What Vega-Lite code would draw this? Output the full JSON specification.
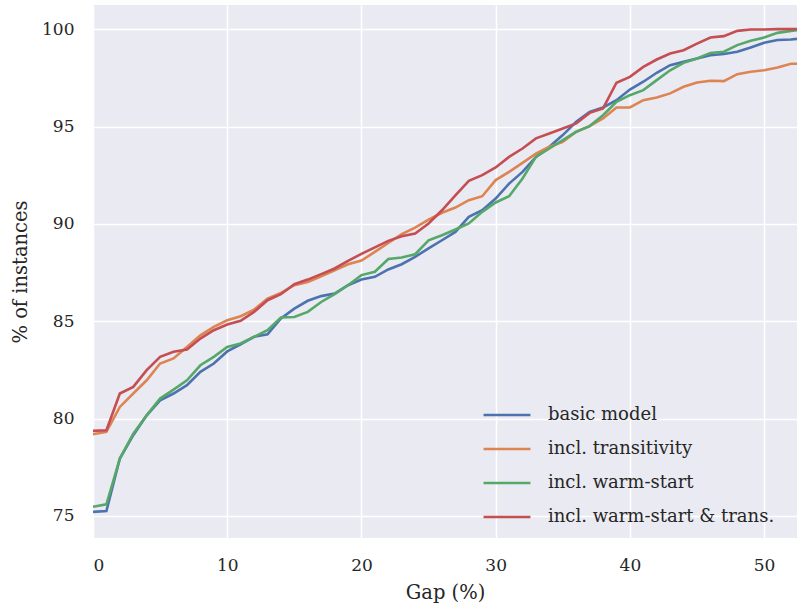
{
  "$schema": "https://vega.github.io/schema/vega-lite/v6.json",
  "width": 704,
  "height": 533,
  "autosize": {"type": "none"},
  "padding": {"left": 93, "top": 5, "right": 0, "bottom": 69},
  "background": "white",
  "config": {
    "view": {"fill": "#EAEAF2", "stroke": null},
    "font": "DejaVu Serif",
    "axis": {
      "domain": false, "ticks": false, "grid": true, "gridColor": "white", "gridWidth": 1.5,
      "labelFont": "DejaVu Serif", "labelFontSize": 17, "labelColor": "#262626",
      "titleFont": "DejaVu Serif", "titleFontSize": 19.5, "titleColor": "#262626", "titleFontWeight": "normal"
    },
    "legend": {"labelFont": "DejaVu Serif", "labelFontSize": 18, "labelColor": "#262626"}
  },
  "data": {"values": [
    {"g":0,"s":"basic model","v":75.21},{"g":1,"s":"basic model","v":75.26},{"g":2,"s":"basic model","v":77.95},{"g":3,"s":"basic model","v":79.15},{"g":4,"s":"basic model","v":80.17},{"g":5,"s":"basic model","v":80.94},{"g":6,"s":"basic model","v":81.29},{"g":7,"s":"basic model","v":81.72},{"g":8,"s":"basic model","v":82.40},{"g":9,"s":"basic model","v":82.83},{"g":10,"s":"basic model","v":83.45},{"g":11,"s":"basic model","v":83.82},{"g":12,"s":"basic model","v":84.20},{"g":13,"s":"basic model","v":84.33},{"g":14,"s":"basic model","v":85.14},{"g":15,"s":"basic model","v":85.65},{"g":16,"s":"basic model","v":86.05},{"g":17,"s":"basic model","v":86.29},{"g":18,"s":"basic model","v":86.42},{"g":19,"s":"basic model","v":86.85},{"g":20,"s":"basic model","v":87.14},{"g":21,"s":"basic model","v":87.28},{"g":22,"s":"basic model","v":87.66},{"g":23,"s":"basic model","v":87.93},{"g":24,"s":"basic model","v":88.31},{"g":25,"s":"basic model","v":88.74},{"g":26,"s":"basic model","v":89.16},{"g":27,"s":"basic model","v":89.59},{"g":28,"s":"basic model","v":90.36},{"g":29,"s":"basic model","v":90.70},{"g":30,"s":"basic model","v":91.3},{"g":31,"s":"basic model","v":92.07},{"g":32,"s":"basic model","v":92.67},{"g":33,"s":"basic model","v":93.44},{"g":34,"s":"basic model","v":93.96},{"g":35,"s":"basic model","v":94.56},{"g":36,"s":"basic model","v":95.24},{"g":37,"s":"basic model","v":95.75},{"g":38,"s":"basic model","v":95.98},{"g":39,"s":"basic model","v":96.35},{"g":40,"s":"basic model","v":96.9},{"g":41,"s":"basic model","v":97.30},{"g":42,"s":"basic model","v":97.76},{"g":43,"s":"basic model","v":98.15},{"g":44,"s":"basic model","v":98.32},{"g":45,"s":"basic model","v":98.49},{"g":46,"s":"basic model","v":98.66},{"g":47,"s":"basic model","v":98.72},{"g":48,"s":"basic model","v":98.84},{"g":49,"s":"basic model","v":99.06},{"g":50,"s":"basic model","v":99.30},{"g":51,"s":"basic model","v":99.44},{"g":52,"s":"basic model","v":99.47},{"g":52.45,"s":"basic model","v":99.5},
    {"g":0,"s":"incl. transitivity","v":79.20},{"g":1,"s":"incl. transitivity","v":79.32},{"g":2,"s":"incl. transitivity","v":80.60},{"g":3,"s":"incl. transitivity","v":81.29},{"g":4,"s":"incl. transitivity","v":81.97},{"g":5,"s":"incl. transitivity","v":82.83},{"g":6,"s":"incl. transitivity","v":83.09},{"g":7,"s":"incl. transitivity","v":83.68},{"g":8,"s":"incl. transitivity","v":84.28},{"g":9,"s":"incl. transitivity","v":84.71},{"g":10,"s":"incl. transitivity","v":85.05},{"g":11,"s":"incl. transitivity","v":85.26},{"g":12,"s":"incl. transitivity","v":85.60},{"g":13,"s":"incl. transitivity","v":86.16},{"g":14,"s":"incl. transitivity","v":86.46},{"g":15,"s":"incl. transitivity","v":86.85},{"g":16,"s":"incl. transitivity","v":87.02},{"g":17,"s":"incl. transitivity","v":87.31},{"g":18,"s":"incl. transitivity","v":87.62},{"g":19,"s":"incl. transitivity","v":87.93},{"g":20,"s":"incl. transitivity","v":88.12},{"g":21,"s":"incl. transitivity","v":88.56},{"g":22,"s":"incl. transitivity","v":89.02},{"g":23,"s":"incl. transitivity","v":89.47},{"g":24,"s":"incl. transitivity","v":89.81},{"g":25,"s":"incl. transitivity","v":90.22},{"g":26,"s":"incl. transitivity","v":90.57},{"g":27,"s":"incl. transitivity","v":90.84},{"g":28,"s":"incl. transitivity","v":91.22},{"g":29,"s":"incl. transitivity","v":91.42},{"g":30,"s":"incl. transitivity","v":92.25},{"g":31,"s":"incl. transitivity","v":92.67},{"g":32,"s":"incl. transitivity","v":93.13},{"g":33,"s":"incl. transitivity","v":93.61},{"g":34,"s":"incl. transitivity","v":93.96},{"g":35,"s":"incl. transitivity","v":94.21},{"g":36,"s":"incl. transitivity","v":94.73},{"g":37,"s":"incl. transitivity","v":95.02},{"g":38,"s":"incl. transitivity","v":95.41},{"g":39,"s":"incl. transitivity","v":95.98},{"g":40,"s":"incl. transitivity","v":95.98},{"g":41,"s":"incl. transitivity","v":96.35},{"g":42,"s":"incl. transitivity","v":96.49},{"g":43,"s":"incl. transitivity","v":96.70},{"g":44,"s":"incl. transitivity","v":97.04},{"g":45,"s":"incl. transitivity","v":97.26},{"g":46,"s":"incl. transitivity","v":97.35},{"g":47,"s":"incl. transitivity","v":97.33},{"g":48,"s":"incl. transitivity","v":97.69},{"g":49,"s":"incl. transitivity","v":97.81},{"g":50,"s":"incl. transitivity","v":97.89},{"g":51,"s":"incl. transitivity","v":98.03},{"g":52,"s":"incl. transitivity","v":98.22},{"g":52.45,"s":"incl. transitivity","v":98.22},
    {"g":0,"s":"incl. warm-start","v":75.47},{"g":1,"s":"incl. warm-start","v":75.60},{"g":2,"s":"incl. warm-start","v":77.95},{"g":3,"s":"incl. warm-start","v":79.23},{"g":4,"s":"incl. warm-start","v":80.17},{"g":5,"s":"incl. warm-start","v":81.03},{"g":6,"s":"incl. warm-start","v":81.49},{"g":7,"s":"incl. warm-start","v":81.97},{"g":8,"s":"incl. warm-start","v":82.74},{"g":9,"s":"incl. warm-start","v":83.17},{"g":10,"s":"incl. warm-start","v":83.68},{"g":11,"s":"incl. warm-start","v":83.86},{"g":12,"s":"incl. warm-start","v":84.20},{"g":13,"s":"incl. warm-start","v":84.54},{"g":14,"s":"incl. warm-start","v":85.19},{"g":15,"s":"incl. warm-start","v":85.22},{"g":16,"s":"incl. warm-start","v":85.48},{"g":17,"s":"incl. warm-start","v":85.99},{"g":18,"s":"incl. warm-start","v":86.39},{"g":19,"s":"incl. warm-start","v":86.85},{"g":20,"s":"incl. warm-start","v":87.37},{"g":21,"s":"incl. warm-start","v":87.54},{"g":22,"s":"incl. warm-start","v":88.2},{"g":23,"s":"incl. warm-start","v":88.27},{"g":24,"s":"incl. warm-start","v":88.44},{"g":25,"s":"incl. warm-start","v":89.16},{"g":26,"s":"incl. warm-start","v":89.42},{"g":27,"s":"incl. warm-start","v":89.71},{"g":28,"s":"incl. warm-start","v":90.02},{"g":29,"s":"incl. warm-start","v":90.62},{"g":30,"s":"incl. warm-start","v":91.1},{"g":31,"s":"incl. warm-start","v":91.42},{"g":32,"s":"incl. warm-start","v":92.33},{"g":33,"s":"incl. warm-start","v":93.44},{"g":34,"s":"incl. warm-start","v":93.87},{"g":35,"s":"incl. warm-start","v":94.30},{"g":36,"s":"incl. warm-start","v":94.73},{"g":37,"s":"incl. warm-start","v":95.02},{"g":38,"s":"incl. warm-start","v":95.58},{"g":39,"s":"incl. warm-start","v":96.27},{"g":40,"s":"incl. warm-start","v":96.61},{"g":41,"s":"incl. warm-start","v":96.87},{"g":42,"s":"incl. warm-start","v":97.38},{"g":43,"s":"incl. warm-start","v":97.89},{"g":44,"s":"incl. warm-start","v":98.27},{"g":45,"s":"incl. warm-start","v":98.49},{"g":46,"s":"incl. warm-start","v":98.78},{"g":47,"s":"incl. warm-start","v":98.84},{"g":48,"s":"incl. warm-start","v":99.18},{"g":49,"s":"incl. warm-start","v":99.40},{"g":50,"s":"incl. warm-start","v":99.57},{"g":51,"s":"incl. warm-start","v":99.81},{"g":52,"s":"incl. warm-start","v":99.91},{"g":52.45,"s":"incl. warm-start","v":99.95},
    {"g":0,"s":"incl. warm-start & trans.","v":79.37},{"g":1,"s":"incl. warm-start & trans.","v":79.40},{"g":2,"s":"incl. warm-start & trans.","v":81.29},{"g":3,"s":"incl. warm-start & trans.","v":81.63},{"g":4,"s":"incl. warm-start & trans.","v":82.49},{"g":5,"s":"incl. warm-start & trans.","v":83.17},{"g":6,"s":"incl. warm-start & trans.","v":83.43},{"g":7,"s":"incl. warm-start & trans.","v":83.55},{"g":8,"s":"incl. warm-start & trans.","v":84.11},{"g":9,"s":"incl. warm-start & trans.","v":84.54},{"g":10,"s":"incl. warm-start & trans.","v":84.83},{"g":11,"s":"incl. warm-start & trans.","v":85.02},{"g":12,"s":"incl. warm-start & trans.","v":85.48},{"g":13,"s":"incl. warm-start & trans.","v":86.08},{"g":14,"s":"incl. warm-start & trans.","v":86.39},{"g":15,"s":"incl. warm-start & trans.","v":86.90},{"g":16,"s":"incl. warm-start & trans.","v":87.14},{"g":17,"s":"incl. warm-start & trans.","v":87.42},{"g":18,"s":"incl. warm-start & trans.","v":87.71},{"g":19,"s":"incl. warm-start & trans.","v":88.10},{"g":20,"s":"incl. warm-start & trans.","v":88.46},{"g":21,"s":"incl. warm-start & trans.","v":88.79},{"g":22,"s":"incl. warm-start & trans.","v":89.13},{"g":23,"s":"incl. warm-start & trans.","v":89.37},{"g":24,"s":"incl. warm-start & trans.","v":89.51},{"g":25,"s":"incl. warm-start & trans.","v":90.02},{"g":26,"s":"incl. warm-start & trans.","v":90.70},{"g":27,"s":"incl. warm-start & trans.","v":91.47},{"g":28,"s":"incl. warm-start & trans.","v":92.21},{"g":29,"s":"incl. warm-start & trans.","v":92.50},{"g":30,"s":"incl. warm-start & trans.","v":92.9},{"g":31,"s":"incl. warm-start & trans.","v":93.44},{"g":32,"s":"incl. warm-start & trans.","v":93.87},{"g":33,"s":"incl. warm-start & trans.","v":94.39},{"g":34,"s":"incl. warm-start & trans.","v":94.64},{"g":35,"s":"incl. warm-start & trans.","v":94.90},{"g":36,"s":"incl. warm-start & trans.","v":95.16},{"g":37,"s":"incl. warm-start & trans.","v":95.70},{"g":38,"s":"incl. warm-start & trans.","v":95.93},{"g":39,"s":"incl. warm-start & trans.","v":97.25},{"g":40,"s":"incl. warm-start & trans.","v":97.55},{"g":41,"s":"incl. warm-start & trans.","v":98.06},{"g":42,"s":"incl. warm-start & trans.","v":98.44},{"g":43,"s":"incl. warm-start & trans.","v":98.75},{"g":44,"s":"incl. warm-start & trans.","v":98.92},{"g":45,"s":"incl. warm-start & trans.","v":99.26},{"g":46,"s":"incl. warm-start & trans.","v":99.57},{"g":47,"s":"incl. warm-start & trans.","v":99.64},{"g":48,"s":"incl. warm-start & trans.","v":99.91},{"g":49,"s":"incl. warm-start & trans.","v":99.98},{"g":50,"s":"incl. warm-start & trans.","v":99.98},{"g":51,"s":"incl. warm-start & trans.","v":100.0},{"g":52,"s":"incl. warm-start & trans.","v":100.0},{"g":52.45,"s":"incl. warm-start & trans.","v":100.0}
  ]},
  "mark": {"type": "line", "strokeWidth": 2.6, "clip": true},
  "encoding": {
    "x": {"field": "g", "type": "quantitative", "title": "Gap (%)",
      "scale": {"domain": [0, 52.45], "nice": false, "zero": false},
      "axis": {"values": [0, 10, 20, 30, 40, 50], "labelPadding": 19, "titlePadding": 10}},
    "y": {"field": "v", "type": "quantitative", "title": "% of instances",
      "scale": {"domain": [73.87, 101.24], "nice": false, "zero": false},
      "axis": {"values": [75, 80, 85, 90, 95, 100], "labelPadding": 19, "titlePadding": 11}},
    "color": {"field": "s", "type": "nominal", "title": null,
      "scale": {"domain": ["basic model", "incl. transitivity", "incl. warm-start", "incl. warm-start & trans."],
        "range": ["#4C72B0", "#DD8452", "#55A868", "#C44E52"]},
      "legend": {"orient": "none", "legendX": 389, "legendY": 385, "symbolType": "stroke", "symbolSize": 2200,
        "symbolStrokeWidth": 2.6, "rowPadding": -23, "labelOffset": 16, "labelLimit": 400}}
  }
}
